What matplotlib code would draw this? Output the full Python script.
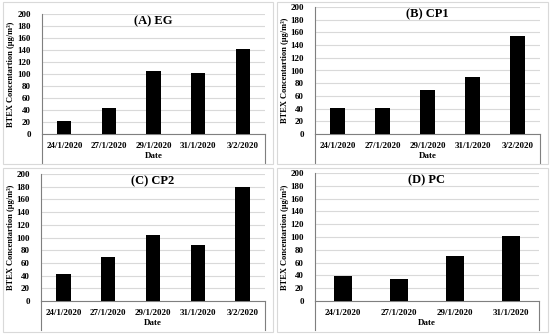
import matplotlib.pyplot as plt
from matplotlib.patches import Rectangle

plt.rcParams['font.family'] = ['Liberation Serif', 'DejaVu Serif']
plt.rcParams['font.weight'] = 'bold'

dates5 = ['24/1/2020', '27/1/2020', '29/1/2020', '31/1/2020', '3/2/2020']
dates4 = ['24/1/2020', '27/1/2020', '29/1/2020', '31/1/2020']

eg = [22, 44, 105, 102, 141]
cp1 = [41, 41, 70, 90, 155]
cp2 = [43, 70, 104, 88, 180]
pc = [39, 34, 70, 101]

titles = ['(A) EG', '(B) CP1', '(C) CP2', '(D) PC']
ylabel = 'BTEX Concentartion (\u03bcg/m\u00b3)'

W, H = 550, 334
fig = plt.figure(figsize=(W / 100, H / 100), dpi=100)

# panel frames (pixels: x0, y0, x1, y1)
frames = [(3, 2, 273, 164), (277, 2, 548, 164), (3, 168, 273, 332), (277, 168, 548, 332)]
for x0, y0, x1, y1 in frames:
    fig.patches.append(Rectangle((x0 / W, 1 - y1 / H), (x1 - x0) / W, (y1 - y0) / H,
                                 transform=fig.transFigure, fill=False,
                                 edgecolor='#d9d9d9', linewidth=0.8))

# plot areas (pixels: left, top of 200, right, zero line, bottom of box)
areas = [(42, 14, 265, 134, 163), (315, 7, 540, 134, 163),
         (41, 174, 265, 301, 330), (315, 173, 539, 301, 330)]
data = [(dates5, eg), (dates5, cp1), (dates5, cp2), (dates4, pc)]

for (left, top, right, zero, bot), (cats, vals), title, fr in zip(areas, data, titles, frames):
    ax = fig.add_axes([left / W, 1 - zero / H, (right - left) / W, (zero - top) / H])
    x = range(len(cats))
    ax.bar(x, vals, width=0.32, color='black', zorder=3)
    ax.set_xlim(-0.5, len(cats) - 0.5)
    ax.set_ylim(0, 200)
    ax.set_yticks(range(0, 201, 20))
    ax.yaxis.grid(True, color='#d9d9d9', linewidth=0.8)
    ax.set_axisbelow(True)
    for s in ['top', 'right']:
        ax.spines[s].set_visible(False)
    ax.spines['left'].set_color('#7f7f7f')
    ax.spines['bottom'].set_color('#7f7f7f')
    ax.tick_params(axis='y', length=0, labelsize=6.5, pad=8)
    ax.tick_params(axis='x', length=0, labelsize=6.5, pad=6)
    ax.set_xticks(list(x))
    ax.set_xticklabels(cats)
    # box below the category axis
    hpx = zero - top
    yb = -(bot - zero) / hpx
    ax.plot([0, 0], [0, yb], transform=ax.transAxes, color='#7f7f7f', lw=0.8, clip_on=False)
    ax.plot([1, 1], [0, yb], transform=ax.transAxes, color='#7f7f7f', lw=0.8, clip_on=False)
    ax.text(0.5, -(22) / hpx, 'Date', transform=ax.transAxes, ha='center', va='center',
            fontsize=6.5, fontweight='bold')
    ax.text(0.5, 1 - 7 / hpx, title, transform=ax.transAxes, ha='center', va='center',
            fontsize=9, fontweight='bold')
    ax.set_ylabel(ylabel, fontsize=6, fontweight='bold')
    ax.yaxis.set_label_coords(-(left - fr[0] - 12) / (right - left), 0.5)

fig.savefig('out.png', dpi=100)
